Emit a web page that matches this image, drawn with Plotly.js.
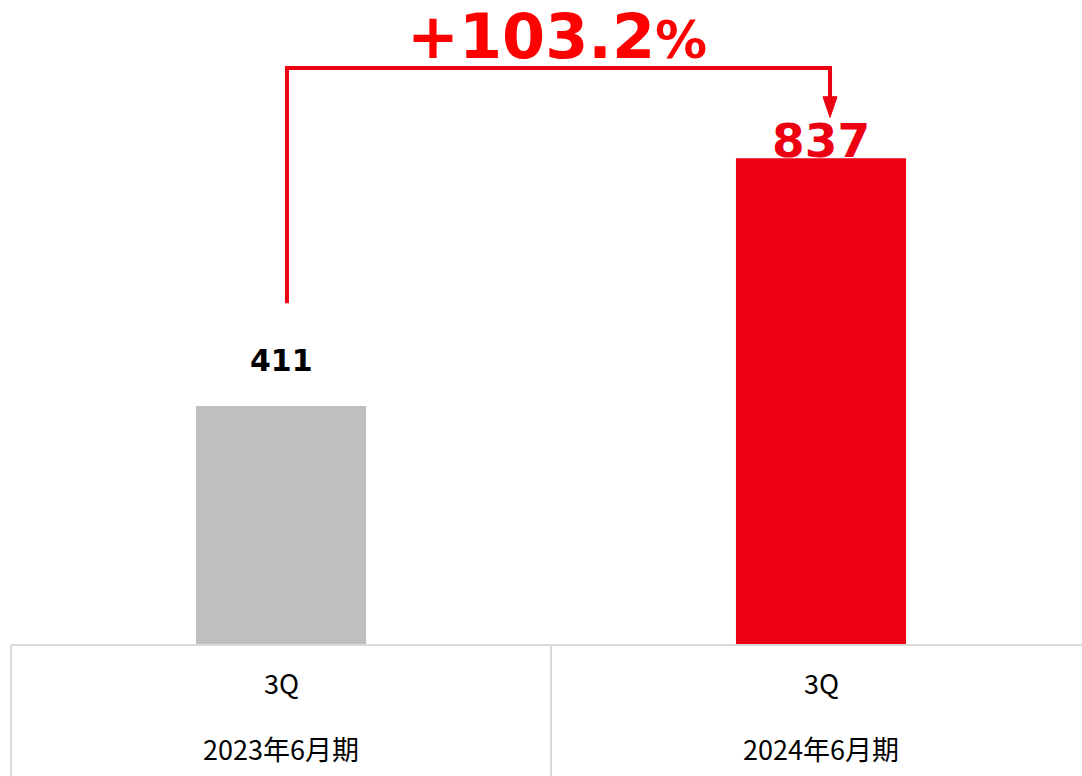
<!DOCTYPE html>
<html>
<head>
<meta charset="utf-8">
<script src="https://cdn.plot.ly/plotly-3.0.1.min.js"></script>
<style>html,body{margin:0;padding:0;background:#fff;overflow:hidden}</style>
</head>
<body>
<div id="chart" style="width:1082px;height:776px"></div>
<script>
var categories = ["2023年6月期", "2024年6月期"];
var quarterLabels = ["3Q", "3Q"];
var values = [411, 837];
var barColors = ["#BFBFBF", "#EC0012"];
var labelColors = ["#000000", "#EC0012"];
var labelSizes = [30, 47];
var labelShifts = [26, -12];
var growthText = "+103.2";

var xIdx = categories.map(function (c, i) { return i; });

var trace = {
  type: "bar",
  x: xIdx,
  y: values,
  width: 0.315,
  marker: { color: barColors, line: { width: 0 } },
  hoverinfo: "skip"
};

var annotations = [];
values.forEach(function (v, i) {
  annotations.push({
    x: i, y: v, xref: "x", yref: "y",
    text: "<b>" + v + "</b>",
    showarrow: false, yanchor: "bottom", yshift: labelShifts[i],
    font: { family: "DejaVu Sans", size: labelSizes[i], color: labelColors[i] }
  });
  annotations.push({
    x: i, y: -0.058, xref: "x", yref: "paper",
    text: quarterLabels[i], showarrow: false, yanchor: "middle",
    font: { family: "Noto Sans CJK JP", size: 27, color: "#000" }
  });
  annotations.push({
    x: i, y: -0.160, xref: "x", yref: "paper",
    text: categories[i], showarrow: false, yanchor: "middle",
    font: { family: "Noto Sans CJK JP", size: 27, color: "#000" }
  });
});
annotations.push({
  x: 0.511, y: 0.943, xref: "x", yref: "paper",
  text: "<b>" + growthText + "<span style='font-size:52px'>%</span></b>",
  showarrow: false, yanchor: "middle",
  font: { family: "DejaVu Sans", size: 62, color: "#FF0000" }
});

var red = "#EC0012";
var grid = "#D9D9D9";
var shapes = [
  { type: "path", xref: "x", yref: "paper",
    path: "M 0.011,0.530 L 0.011,0.8946 L 1.0167,0.8946 L 1.0167,0.845",
    line: { color: red, width: 4 } },
  { type: "path", xref: "x", yref: "paper",
    path: "M 1.0037,0.850 L 1.0297,0.850 L 1.0167,0.818 Z",
    fillcolor: red, line: { color: red, width: 1 } },
  { type: "line", xref: "paper", yref: "paper", x0: 0, x1: 1, y0: 0, y1: 0,
    line: { color: grid, width: 2 } },
  { type: "line", xref: "paper", yref: "paper", x0: 0, x1: 0, y0: 0, y1: -0.21,
    line: { color: grid, width: 2 } },
  { type: "line", xref: "x", yref: "paper", x0: 0.5, x1: 0.5, y0: 0, y1: -0.21,
    line: { color: grid, width: 2 } }
];

var layout = {
  width: 1082, height: 776,
  margin: { l: 11, r: 0, t: 0, b: 131 },
  paper_bgcolor: "#fff", plot_bgcolor: "#fff",
  showlegend: false,
  xaxis: { range: [-0.5, 1.4833], visible: false, fixedrange: true },
  yaxis: { range: [0, 1109], visible: false, fixedrange: true },
  annotations: annotations,
  shapes: shapes
};

Plotly.newPlot("chart", [trace], layout, { displayModeBar: false, staticPlot: true });
</script>
</body>
</html>
